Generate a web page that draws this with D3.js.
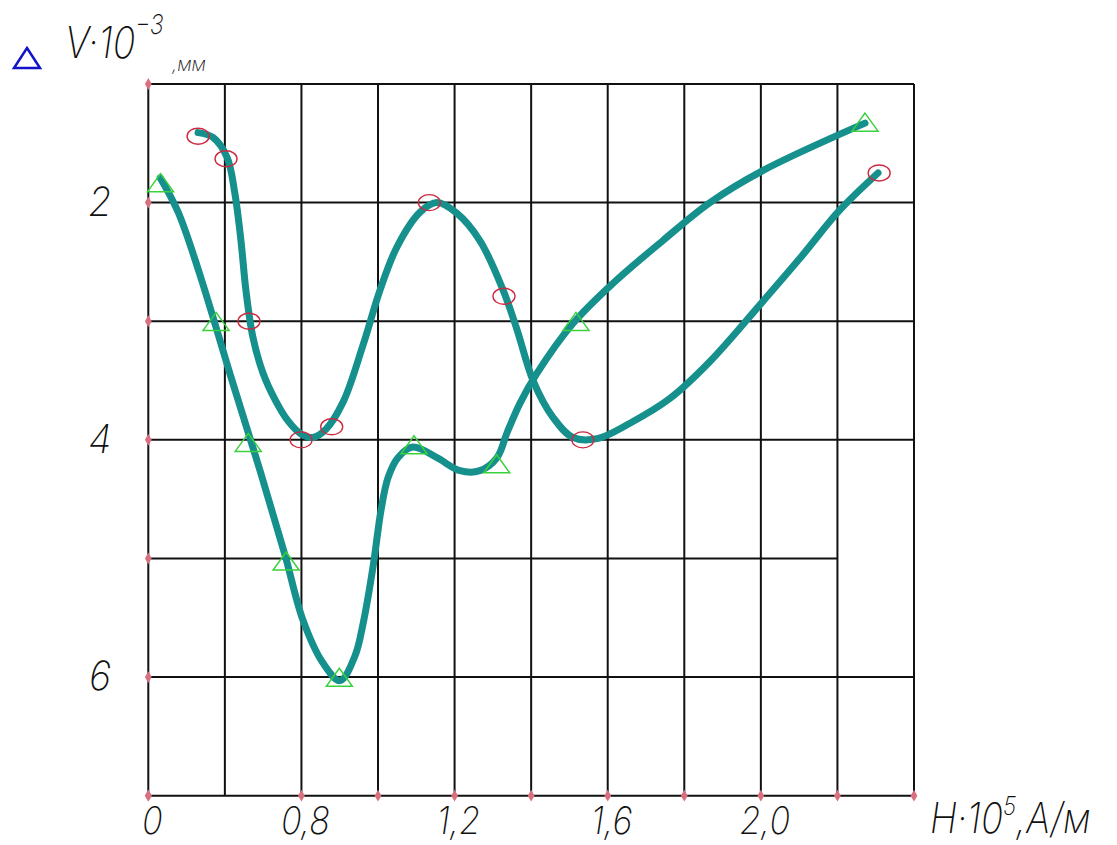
<!DOCTYPE html>
<html>
<head>
<meta charset="utf-8">
<script src="https://cdn.jsdelivr.net/npm/d3@7"></script>
<style>
body { margin: 0; background: #fff; }
text { font-family: "Inter", "Open Sans", "DejaVu Sans", sans-serif; font-style: italic; font-weight: 200; fill: #111; }
</style>
</head>
<body>
<svg id="chart"></svg>
<script>
var width = 1117, height = 845;

// grid in H (x) and V (y) units
var gridX = [0.4, 0.6, 0.8, 1.0, 1.2, 1.4, 1.6, 1.8, 2.0, 2.2, 2.4];
var gridY = [1, 2, 3, 4, 5, 6, 7];
var xTicks = [0.4, 0.8, 1.2, 1.6, 2.0];
var xTickLabels = ["0", "0,8", "1,2", "1,6", "2,0"];
var yTicks = [2, 4, 6];
var yTickLabels = ["2", "4", "6"];

// measured points: circles (red) and triangles (green)
var circH = [0.530, 0.603, 0.663, 0.799, 0.879, 1.134, 1.329, 1.535, 2.309];
var circV = [1.44, 1.63, 3.00, 4.00, 3.89, 2.00, 2.79, 4.00, 1.75];
var triH = [0.432, 0.577, 0.661, 0.760, 0.899, 1.094, 1.310, 1.517, 2.272];
var triV = [1.84, 3.01, 4.03, 5.03, 6.01, 4.05, 4.21, 3.01, 1.33];

// hand-drawn curves
var curveAH = [0.530, 0.569, 0.606, 0.626, 0.642, 0.655, 0.673, 0.700, 0.731, 0.765, 0.799, 0.830, 0.864, 0.909, 0.961, 1.005, 1.050, 1.110, 1.154, 1.206, 1.266, 1.327, 1.363, 1.405, 1.457, 1.509, 1.572, 1.658, 1.763, 1.867, 1.998, 2.102, 2.207, 2.306];
var curveAV = [1.41, 1.45, 1.62, 1.92, 2.32, 2.74, 3.13, 3.44, 3.66, 3.84, 3.95, 3.98, 3.91, 3.68, 3.20, 2.74, 2.37, 2.08, 2.00, 2.09, 2.32, 2.74, 3.07, 3.50, 3.81, 3.98, 3.99, 3.86, 3.65, 3.34, 2.86, 2.47, 2.06, 1.75];
var curveBH = [0.431, 0.478, 0.535, 0.614, 0.692, 0.757, 0.804, 0.856, 0.901, 0.940, 0.961, 0.987, 1.008, 1.026, 1.052, 1.091, 1.154, 1.214, 1.266, 1.311, 1.337, 1.371, 1.415, 1.509, 1.614, 1.744, 1.867, 2.005, 2.272];
var curveBV = [1.79, 2.08, 2.61, 3.45, 4.26, 4.97, 5.52, 5.88, 6.03, 5.82, 5.55, 5.07, 4.59, 4.32, 4.15, 4.06, 4.15, 4.26, 4.26, 4.15, 3.94, 3.69, 3.44, 3.02, 2.68, 2.32, 2.00, 1.73, 1.33];

var x = d3.scaleLinear().domain([0.4, 2.4]).range([148.3, 914]);
var y = d3.scaleLinear().domain([1, 7]).range([84, 795.7]);

var svg = d3.select("#chart").attr("width", width).attr("height", height);

// grid
var grid = svg.append("g").attr("stroke", "#111").attr("stroke-width", 2);
grid.selectAll("line.v").data(gridX).enter().append("line")
	.attr("x1", function(d) { return x(d); }).attr("x2", function(d) { return x(d); })
	.attr("y1", y(1)).attr("y2", y(7));
grid.selectAll("line.h").data(gridY).enter().append("line")
	.attr("x1", x(0.4)).attr("x2", function(d) { return x(d === 5 ? 2.2 : 2.4); })
	.attr("y1", function(d) { return y(d); }).attr("y2", function(d) { return y(d); });

// red tick dots on the axes
var diamond = d3.symbol().type(d3.symbolDiamond).size(40);
svg.append("g").selectAll("path").data(gridX.filter(function(d) { return d !== 0.6; }))
	.enter().append("path").attr("d", diamond).attr("fill", "#d9707f")
	.attr("transform", function(d) { return "translate(" + [x(d), y(7)] + ")"; });
svg.append("g").selectAll("path").data(gridY)
	.enter().append("path").attr("d", diamond).attr("fill", "#d9707f")
	.attr("transform", function(d) { return "translate(" + [x(0.4), y(d)] + ")"; });

// tick labels
svg.append("g").selectAll("text").data(xTicks).enter().append("text")
	.attr("text-anchor", "middle").attr("font-size", 38)
	.attr("transform", function(d) { return "translate(" + [x(d) + 4, 834] + ") scale(0.9,1)"; })
	.text(function(d, i) { return xTickLabels[i]; });
svg.append("g").selectAll("text").data(yTicks).enter().append("text")
	.attr("text-anchor", "middle").attr("font-size", 40)
	.attr("transform", function(d) { return "translate(" + [100, y(d) + 13] + ") scale(0.95,1)"; })
	.text(function(d, i) { return yTickLabels[i]; });

// curves
var line = d3.line().curve(d3.curveCatmullRom.alpha(0.5));
[[curveAH, curveAV], [curveBH, curveBV]].forEach(function(c) {
	svg.append("path")
		.attr("d", line(c[0].map(function(h, i) { return [x(h), y(c[1][i])]; })))
		.attr("fill", "none").attr("stroke", "#16908c")
		.attr("stroke-width", 7).attr("stroke-linecap", "round").attr("stroke-linejoin", "round");
});

// markers
svg.append("g").selectAll("ellipse").data(circH).enter().append("ellipse")
	.attr("cx", function(d) { return x(d); })
	.attr("cy", function(d, i) { return y(circV[i]); })
	.attr("rx", 11).attr("ry", 8)
	.attr("fill", "none").attr("stroke", "#cc2a40").attr("stroke-width", 1.4);
svg.append("g").selectAll("path").data(triH).enter().append("path")
	.attr("d", "M0,-10 L13,8 L-13,8 Z")
	.attr("transform", function(d, i) { return "translate(" + [x(d), y(triV[i])] + ")"; })
	.attr("fill", "none").attr("stroke", "#3ad13a").attr("stroke-width", 1.5);

// y axis title
svg.append("path").attr("d", "M27,48 L40,68 L14,68 Z")
	.attr("fill", "none").attr("stroke", "#1212c8").attr("stroke-width", 2.5);
var yt = svg.append("text").attr("font-size", 44)
	.attr("transform", "translate(65,58) scale(0.85,1)");
yt.append("tspan").text("V·10");
yt.append("tspan").attr("font-size", 27).attr("dy", -24).text("−3");
svg.append("text").attr("font-size", 19).attr("x", 172).attr("y", 71).text(",мм");

// x axis title
var xt = svg.append("text").attr("font-size", 42)
	.attr("transform", "translate(930,833) scale(0.87,1)");
xt.append("tspan").text("H·10");
xt.append("tspan").attr("font-size", 26).attr("dy", -18).text("5");
xt.append("tspan").attr("dy", 18).text(",A/м");
</script>
</body>
</html>
